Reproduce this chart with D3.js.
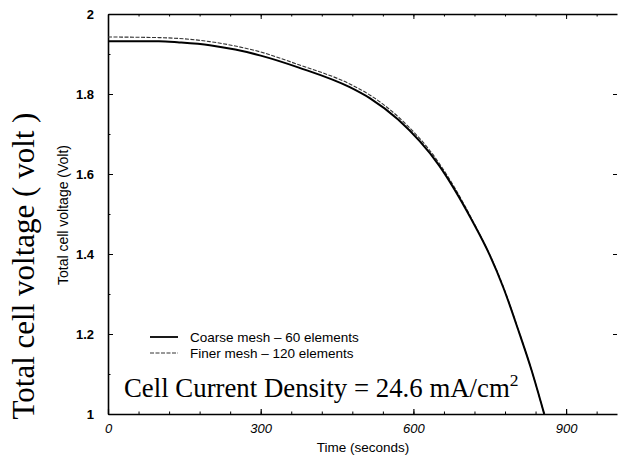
<!DOCTYPE html>
<html>
<head>
<meta charset="utf-8">
<script src="https://cdn.jsdelivr.net/npm/d3@7"></script>
<style>
  body { margin: 0; background: #fff; }
  svg { display: block; }
  .tick text { font-family: "Liberation Sans", Arial, sans-serif; fill: #000; }
</style>
</head>
<body>
<script>
const coarseTime = [0, 100, 140, 200, 250, 300, 375, 475, 515, 570, 650, 715, 750, 777, 806, 832, 857]
const coarseVolt = [1.932, 1.932, 1.929, 1.922, 1.911, 1.896, 1.866, 1.817, 1.789, 1.736, 1.622, 1.484, 1.397, 1.315, 1.21, 1.11, 1.0]
const fineTime = [0, 100, 200, 250, 300, 375, 475, 515, 570, 650, 715, 777, 806, 832, 857]
const fineVolt = [1.9425, 1.941, 1.931, 1.92, 1.905, 1.873, 1.825, 1.797, 1.743, 1.628, 1.487, 1.317, 1.211, 1.11, 1.0]
const xTicks = [0, 300, 600, 900]
const yTicks = [1, 1.2, 1.4, 1.6, 1.8, 2]
const legendLabels = ['Coarse mesh - 60 elements', 'Finer mesh - 120 elements']

const width = 618
const height = 460
const plotLeft = 108, plotRight = 617, plotTop = 14, plotBottom = 414

const svg = d3.select('body')
    .append('svg')
    .attr('width', width)
    .attr('height', height)

const x = d3.scaleLinear().domain([0, 1000]).range([plotLeft, plotRight])
const y = d3.scaleLinear().domain([1, 2]).range([plotBottom, plotTop])

// minor ticks every 60 s and 0.1 V
const xMinor = d3.range(0, 1001, 60)
const yMinor = d3.range(1, 2.001, 0.1)

function fmtY(d) { return d === 1 || d === 2 ? String(d) : d.toFixed(1) }

// bottom axis
const gx = svg.append('g')
    .attr('transform', 'translate(0,' + plotBottom + ')')
    .call(d3.axisBottom(x).tickValues(xTicks).tickSizeInner(-5).tickSizeOuter(0).tickPadding(8))
gx.select('.domain').attr('stroke-width', 1.6)
gx.selectAll('text').attr('font-size', 13).attr('font-style', 'italic').attr('dy', '0.85em')
gx.selectAll('.tick line').attr('stroke-width', 1.2)
svg.append('g')
    .attr('transform', 'translate(0,' + plotBottom + ')')
    .call(d3.axisBottom(x).tickValues(xMinor).tickSize(-2.5).tickFormat(''))
    .select('.domain').remove()

// top axis
const gt = svg.append('g')
    .attr('transform', 'translate(0,' + plotTop + ')')
    .call(d3.axisTop(x).tickValues(xTicks).tickSizeInner(-5).tickSizeOuter(0).tickFormat(''))
gt.select('.domain').attr('stroke-width', 1.6)
svg.append('g')
    .attr('transform', 'translate(0,' + plotTop + ')')
    .call(d3.axisTop(x).tickValues(xMinor).tickSize(-2.5).tickFormat(''))
    .select('.domain').remove()

// left axis
const gy = svg.append('g')
    .attr('transform', 'translate(' + plotLeft + ',0)')
    .call(d3.axisLeft(y).tickValues(yTicks).tickSizeInner(-5).tickSizeOuter(0).tickPadding(14).tickFormat(fmtY))
gy.select('.domain').attr('stroke-width', 1.6)
gy.selectAll('text').attr('font-size', 13).attr('font-weight', 'bold')
svg.append('g')
    .attr('transform', 'translate(' + plotLeft + ',0)')
    .call(d3.axisLeft(y).tickValues(yMinor).tickSize(-2.5).tickFormat(''))
    .select('.domain').remove()

// right axis, ticks only
const gr = svg.append('g')
    .attr('transform', 'translate(' + plotRight + ',0)')
    .call(d3.axisRight(y).tickValues(yTicks).tickSizeInner(-4).tickSizeOuter(0).tickFormat(''))
gr.select('.domain').remove()

// curves
const line = d3.line()
    .x(d => x(d[0]))
    .y(d => y(d[1]))
    .curve(d3.curveMonotoneX)

svg.append('path')
    .datum(fineTime.map((t, i) => [t, fineVolt[i]]))
    .attr('d', line)
    .attr('fill', 'none')
    .attr('stroke', '#333')
    .attr('stroke-width', 1.1)
    .attr('stroke-dasharray', '4,1.5')

svg.append('path')
    .datum(coarseTime.map((t, i) => [t, coarseVolt[i]]))
    .attr('d', line)
    .attr('fill', 'none')
    .attr('stroke', '#000')
    .attr('stroke-width', 2)

// legend
const legend = svg.append('g').attr('font-family', '"Liberation Sans", Arial, sans-serif').attr('font-size', 13.5)
legendLabels.forEach((label, i) => {
    const ly = 337 + i * 16
    legend.append('line')
        .attr('x1', 150).attr('x2', 178)
        .attr('y1', ly).attr('y2', ly)
        .attr('stroke', i === 0 ? '#000' : '#333')
        .attr('stroke-width', i === 0 ? 1.8 : 1)
        .attr('stroke-dasharray', i === 0 ? null : '4,1.5')
    legend.append('text')
        .attr('x', 190).attr('y', ly + 4.5)
        .text(label.replace(' - ', ' \u2013 '))
})

// annotation
const note = svg.append('text')
    .attr('x', 124).attr('y', 397)
    .attr('font-family', '"Liberation Serif", "Times New Roman", serif')
    .attr('font-size', 26.8)
note.append('tspan').text('Cell Current Density = 24.6 mA/cm')
note.append('tspan').attr('dy', -11).attr('font-size', 17.5).text('2')

// axis titles
svg.append('text')
    .attr('x', 363).attr('y', 452)
    .attr('text-anchor', 'middle')
    .attr('font-family', '"Liberation Sans", Arial, sans-serif')
    .attr('font-size', 13.5)
    .text('Time (seconds)')

svg.append('text')
    .attr('transform', 'translate(68,215) rotate(-90)')
    .attr('text-anchor', 'middle')
    .attr('font-family', '"Liberation Sans", Arial, sans-serif')
    .attr('font-size', 14)
    .text('Total cell voltage (Volt)')

svg.append('text')
    .attr('transform', 'translate(34,266) rotate(-90)')
    .attr('text-anchor', 'middle')
    .attr('font-family', '"Liberation Serif", "Times New Roman", serif')
    .attr('font-size', 31)
    .text('Total cell voltage ( volt )')
</script>
</body>
</html>
